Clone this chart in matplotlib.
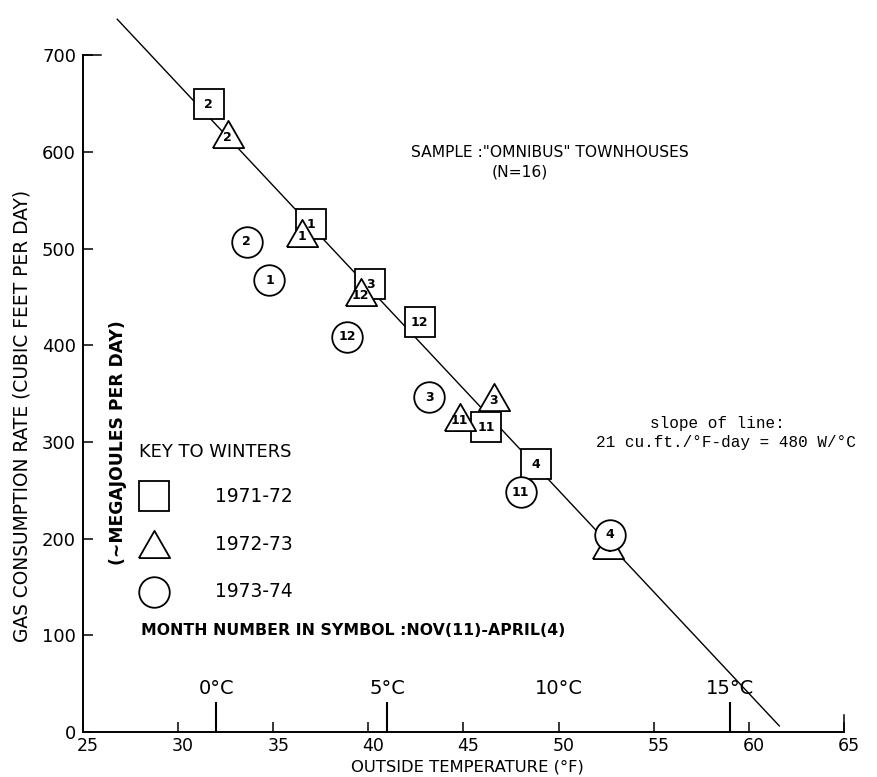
import matplotlib
matplotlib.use("Agg")
import matplotlib.pyplot as plt
import matplotlib.transforms as mtransforms

# winter 1971-72 (squares), 1972-73 (triangles), 1973-74 (circles)
months_7172 = ["2", "1", "3", "12", "11", "4"]
temp_7172 = [31.6, 37.0, 40.1, 42.7, 46.2, 48.8]
gas_7172 = [649, 525, 463, 424, 315, 277]

months_7273 = ["2", "1", "12", "11", "3", "4"]
temp_7273 = [32.6, 36.5, 39.6, 44.8, 46.6, 52.6]
gas_7273 = [618, 516, 455, 326, 346, 193]

months_7374 = ["2", "1", "12", "3", "11", "4"]
temp_7374 = [33.6, 34.8, 38.9, 43.2, 48.0, 52.7]
gas_7374 = [507, 467, 409, 346, 248, 204]

# fitted line: 21 cu.ft. per degF-day, reaching zero near 61.9 F
SLOPE = 21.0
T_ZERO = 61.9
LINE_T = [26.8, 61.6]

F_TICKS = list(range(25, 66, 5))
C_TICKS = [0, 5, 10, 15]
Y_TICKS = list(range(0, 701, 100))

TRI = [(-1.0, -0.87), (1.0, -0.87), (0.0, 0.87), (-1.0, -0.87)]
STYLE = dict(ls="none", mfc="white", mec="black", mew=1.3)

fig = plt.figure(figsize=(8.78, 7.77), dpi=100)
ax = fig.add_axes([83 / 878, 45 / 777, 761 / 878, 732 / 777])
ax.set_xlim(25, 65)
ax.set_ylim(0, 757)

for s in ("top", "right"):
    ax.spines[s].set_visible(False)
ax.spines["left"].set_bounds(0, 700)
ax.spines["bottom"].set_bounds(25, 65)
for s in ("left", "bottom"):
    ax.spines[s].set_linewidth(1.4)

ax.set_xticks(F_TICKS)
ax.set_yticks(Y_TICKS)
ax.tick_params(direction="in", length=7, width=1.1, labelsize=13, pad=5)
ax.tick_params(axis="x", pad=3.5, labelsize=12.5)
# x labels sit a little right of their ticks, as in the original drawing
shift = mtransforms.ScaledTranslation(5 / 100, 0, fig.dpi_scale_trans)
for lab in ax.get_xticklabels():
    lab.set_transform(lab.get_transform() + shift)
c_in_f = [c * 9 / 5 + 32 for c in C_TICKS]
ax.set_xticks(c_in_f, minor=True)
ax.tick_params(axis="x", which="minor", direction="in", length=21.5, width=1.5)
for c, f in zip(C_TICKS, c_in_f):
    ax.text(f, 44.5, f"{c}°C", ha="center", va="center", fontsize=14)
# longer end ticks of the axes
ax.plot([65, 65], [0, 17.5], color="black", lw=1.1, clip_on=False)
ax.plot([25, 25.95], [700, 700], color="black", lw=1.1, clip_on=False)

# regression line
t0, t1 = LINE_T
ax.plot([t0, t1], [SLOPE * (T_ZERO - t0), SLOPE * (T_ZERO - t1)],
        color="black", lw=1.0, zorder=1, clip_on=False)


def draw(temps, gas, months, marker, ms, dy, z):
    ax.plot(temps, gas, marker=marker, ms=ms, zorder=z, **STYLE)
    for t, g, m in zip(temps, gas, months):
        ax.annotate(m, (t, g), xytext=(0, dy), textcoords="offset points",
                    ha="center", va="center", fontsize=9, fontweight="bold",
                    zorder=z + 0.5)


draw(temp_7172, gas_7172, months_7172, "s", 21, 0, 3)
draw(temp_7273, gas_7273, months_7273, TRI, 22.5, -2.5, 4)
draw(temp_7374, gas_7374, months_7374, "o", 22, 0, 5)

# key
tr = ax.transAxes
ax.text(0.0736, 0.3825, "KEY TO WINTERS", transform=tr, fontsize=12.9,
        va="center")
for y, mk, ms, lab in [(0.3224, "s", 21, "1971-72"),
                       (0.2568, TRI, 22.5, "1972-73"),
                       (0.1913, "o", 22, "1973-74")]:
    ax.plot([0.0933], [y], marker=mk, ms=ms, transform=tr, clip_on=False,
            **STYLE)
    ax.text(0.1735, y, lab, transform=tr, fontsize=13.4, va="center")
ax.text(0.0762, 0.1393, "MONTH NUMBER IN SYMBOL :NOV(11)-APRIL(4)",
        transform=tr, fontsize=11.3, va="center", fontweight="bold")

ax.text(0.6137, 0.791, 'SAMPLE :"OMNIBUS" TOWNHOUSES', transform=tr,
        fontsize=11.2, ha="center", va="center")
ax.text(0.574, 0.765, "(N=16)", transform=tr, fontsize=11.2,
        ha="center", va="center")

mono = "Liberation Mono"
ax.text(0.745, 0.422, "slope of line:", transform=tr, family=mono,
        fontsize=11.5, va="center")
ax.text(0.674, 0.395, "21 cu.ft./°F-day = 480 W/°C", transform=tr,
        family=mono, fontsize=11.5, va="center")

ax.text(-0.0802, 0.4317, "GAS CONSUMPTION RATE (CUBIC FEET PER DAY)",
        transform=tr, rotation=90, fontsize=13.4, ha="center", va="center")
ax.text(0.046, 0.396, "(~MEGAJOULES PER DAY)", transform=tr, rotation=90,
        fontsize=12.3, ha="center", va="center", fontweight="bold")
ax.text(0.5046, -0.0478, "OUTSIDE TEMPERATURE (°F)", transform=tr,
        fontsize=11.8, ha="center", va="center")

fig.savefig("out.png", dpi=100)
